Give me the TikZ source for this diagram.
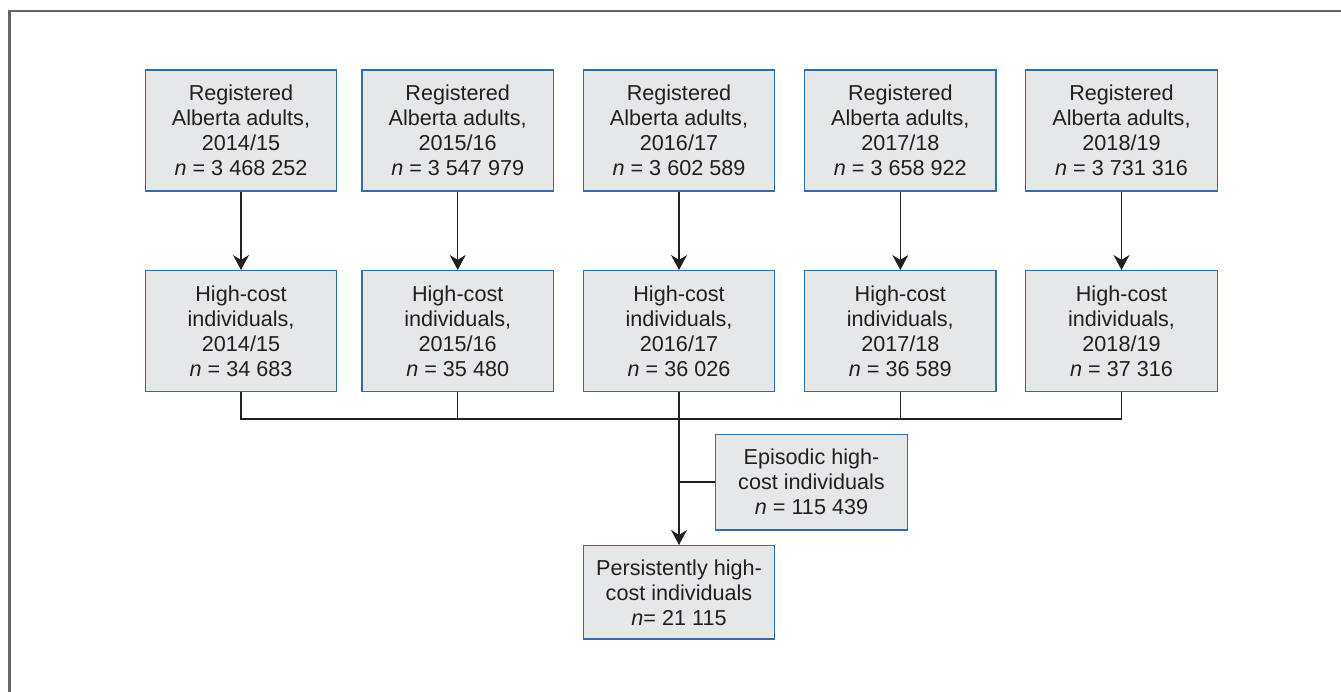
\documentclass[tikz,border=0pt]{standalone}
\usepackage{fontspec}
\setmainfont{Liberation Sans}
\usetikzlibrary{arrows.meta}
\definecolor{boxfill}{HTML}{E6E7E8}
\definecolor{boxline}{HTML}{2F6EAA}
\definecolor{ink}{HTML}{231F20}
\definecolor{framegray}{HTML}{666666}

\begin{document}
\begin{tikzpicture}[x=0.02cm, y=-0.02cm]
\tikzset{
	a/.style={rectangle, draw=boxline, fill=boxfill, line width=0.8pt, text=ink, align=center,
		font=\fontsize{12.3}{14.2}\selectfont, minimum width=3.83cm, minimum height=2.42cm, inner sep=0pt},
	e/.style={a, minimum height=1.92cm},
	l/.style={draw=ink, line width=0.8pt},
	arr/.style={l, -{Stealth[length=0.3cm, width=0.32cm]}}
}
\useasboundingbox (0,0) rectangle (1341,692);

% frame
\draw[framegray, line width=1.2pt] (9.5,692) -- (9.5,11) -- (1341,11);

% registered adults
\node[a] (reg_1) at(241,130.5)    {Registered\\Alberta adults,\\2014/15\\\textit{n} = 3 468 252};
\node[a] (reg_2) at(457.7,130.5)  {Registered\\Alberta adults,\\2015/16\\\textit{n} = 3 547 979};
\node[a] (reg_3) at(679,130.5)    {Registered\\Alberta adults,\\2016/17\\\textit{n} = 3 602 589};
\node[a] (reg_4) at(900.3,130.5)  {Registered\\Alberta adults,\\2017/18\\\textit{n} = 3 658 922};
\node[a] (reg_5) at(1121.5,130.5) {Registered\\Alberta adults,\\2018/19\\\textit{n} = 3 731 316};

% high-cost
\node[a] (hc_1) at(241,331.2)    {High-cost\\individuals,\\2014/15\\\textit{n} = 34 683};
\node[a] (hc_2) at(457.7,331.2)  {High-cost\\individuals,\\2015/16\\\textit{n} = 35 480};
\node[a] (hc_3) at(679,331.2)    {High-cost\\individuals,\\2016/17\\\textit{n} = 36 026};
\node[a] (hc_4) at(900.3,331.2)  {High-cost\\individuals,\\2017/18\\\textit{n} = 36 589};
\node[a] (hc_5) at(1121.5,331.2) {High-cost\\individuals,\\2018/19\\\textit{n} = 37 316};

% episodic / persistent
\node[e] (epi) at(811.5,482.2) {Episodic high-\\cost individuals\\\textit{n} = 115 439};
\node[e, minimum height=1.87cm] (pers) at(679,592.4) {Persistently high-\\cost individuals\\\textit{n}= 21 115};

% registered --> high-cost
\draw[arr] (reg_1) -- (hc_1);
\draw[arr] (reg_2) -- (hc_2);
\draw[arr] (reg_3) -- (hc_3);
\draw[arr] (reg_4) -- (hc_4);
\draw[arr] (reg_5) -- (hc_5);

% bar
\coordinate (bar) at(0,419);
\draw[l] (hc_1.south) -- (hc_1.south |- bar) -- (hc_5.south |- bar) -- (hc_5.south);
\draw[l] (hc_2.south) -- (hc_2.south |- bar);
\draw[l] (hc_4.south) -- (hc_4.south |- bar);

% high-cost --> persistent
\draw[arr] (hc_3) -- (pers);
\draw[l] (epi.west) -- (epi.west -| pers.north);

\end{tikzpicture}
\end{document}
